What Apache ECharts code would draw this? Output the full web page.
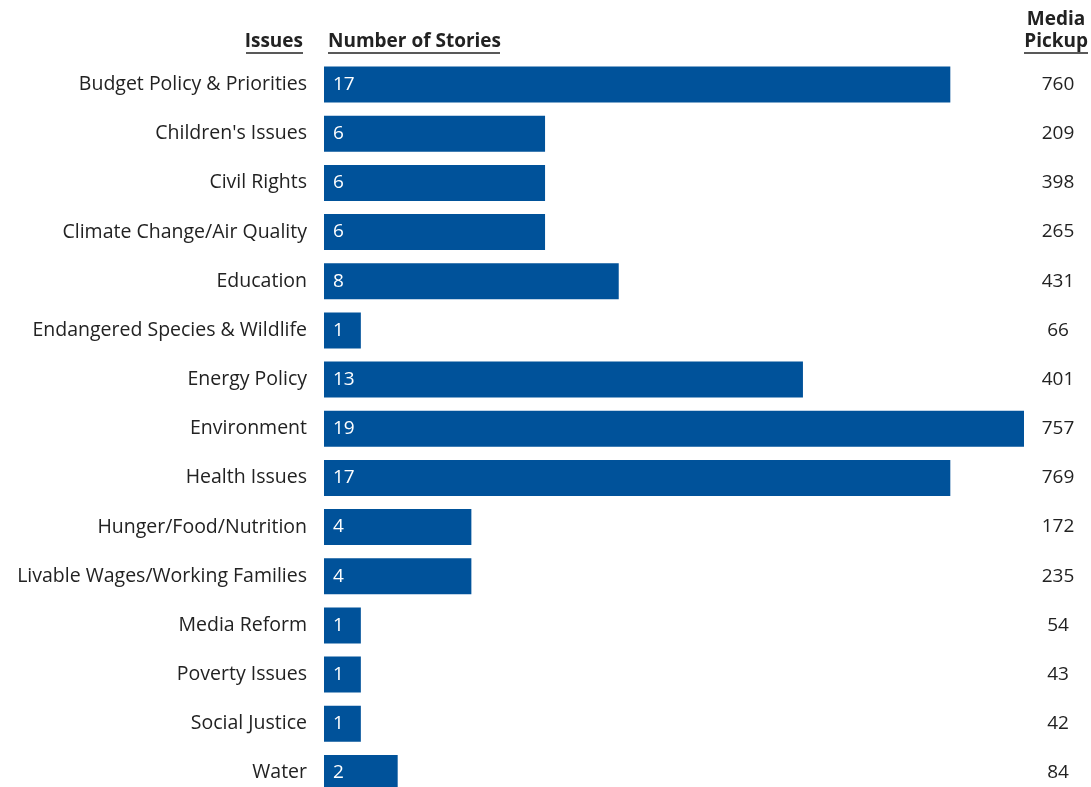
<!DOCTYPE html>
<html><head><meta charset="utf-8">
<script src="https://cdn.jsdelivr.net/npm/echarts@6/dist/echarts.min.js"></script>
<style>html,body{margin:0;padding:0;background:#fff;overflow:hidden;}#c{width:1091px;height:810px;}</style>
</head><body><div id="c"></div>
<script>
const categories = ["Budget Policy & Priorities","Children's Issues","Civil Rights","Climate Change/Air Quality","Education","Endangered Species & Wildlife","Energy Policy","Environment","Health Issues","Hunger/Food/Nutrition","Livable Wages/Working Families","Media Reform","Poverty Issues","Social Justice","Water"];
const stories = [17,6,6,6,8,1,13,19,17,4,4,1,1,1,2];
const pickup = [760,209,398,265,431,66,401,757,769,172,235,54,43,42,84];

const FONT = 'Open Sans';
const chart = echarts.init(document.getElementById('c'));
chart.setOption({
  animation:false,
  grid:{left:324,right:67,top:60,height:737.5,containLabel:false},
  xAxis:{type:'value',min:0,max:19,show:false},
  yAxis:[
    {type:'category',data:categories,inverse:true,axisLine:{show:false},axisTick:{show:false},
     axisLabel:{color:'#222',fontSize:19.5,fontFamily:FONT,margin:17}},
    {type:'category',data:pickup,inverse:true,position:'right',axisLine:{show:false},axisTick:{show:false},
     axisLabel:{color:'#222',fontSize:19,fontFamily:FONT,margin:34,align:'center'}}
  ],
  series:[{type:'bar',data:stories,barWidth:36,itemStyle:{color:'#00529A'},
    label:{show:true,position:'insideLeft',distance:9,color:'#fff',fontSize:19,fontFamily:FONT}}],
  graphic:[
    {type:'text',x:303,y:42,style:{text:'Issues',font:'bold 19px "'+FONT+'"',fill:'#222',textAlign:'right',textVerticalAlign:'middle'}},
    {type:'line',shape:{x1:246,y1:53,x2:303,y2:53},style:{stroke:'#222',lineWidth:1.5}},
    {type:'text',x:328,y:42,style:{text:'Number of Stories',font:'bold 19px "'+FONT+'"',fill:'#222',textAlign:'left',textVerticalAlign:'middle'}},
    {type:'line',shape:{x1:328,y1:53,x2:500,y2:53},style:{stroke:'#222',lineWidth:1.5}},
    {type:'text',x:1056,y:20,style:{text:'Media',font:'bold 19px "'+FONT+'"',fill:'#222',textAlign:'center',textVerticalAlign:'middle'}},
    {type:'text',x:1088,y:42,style:{text:'Pickup',font:'bold 19px "'+FONT+'"',fill:'#222',textAlign:'right',textVerticalAlign:'middle'}},
    {type:'line',shape:{x1:1024,y1:53,x2:1088,y2:53},style:{stroke:'#222',lineWidth:1.5}}
  ]
});
</script></body></html>
